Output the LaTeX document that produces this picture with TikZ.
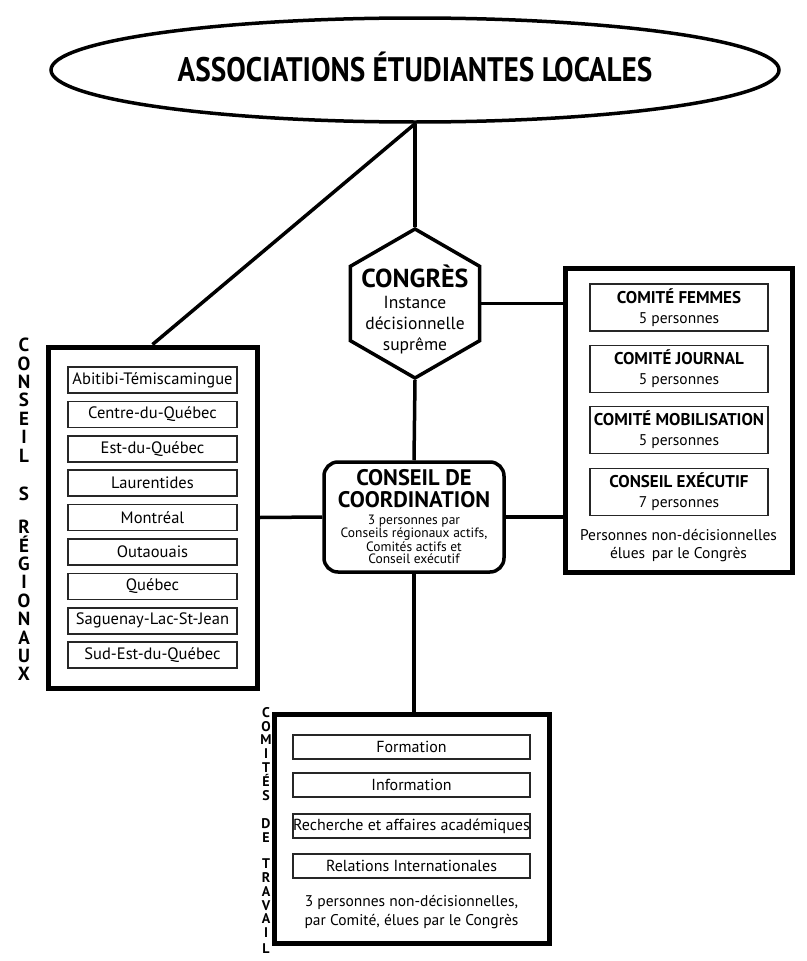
\documentclass[tikz,border=0pt]{standalone}
\usepackage{fontspec}
\setmainfont{PT Sans}
\usetikzlibrary{shapes.geometric}
\newcommand\myttlfont{\fontsize{17}{20}\selectfont\bfseries}
\begin{document}
\begin{tikzpicture}[x=1pt,y=-1pt,
  conn/.style={line width=3.5pt},
  outer/.style={draw, line width=5pt, inner sep=0pt, fill=white},
  inbox/.style={draw=black!85, line width=1.5pt, inner sep=0pt, fill=white, align=center},
  regbox/.style={inbox, minimum width=169pt, minimum height=26pt, font=\fontsize{16.5}{17}\selectfont},
  natbox/.style={inbox, minimum width=178pt, minimum height=47pt, font=\fontsize{15.5}{20}\selectfont},
  trabox/.style={inbox, minimum width=237pt, minimum height=24pt, font=\fontsize{16}{17}\selectfont},
  vletl/.style={font=\fontsize{19}{19}\selectfont\bfseries, inner sep=0pt, text height=13.5pt, text depth=0pt},
  vletb/.style={font=\fontsize{14}{14}\selectfont\bfseries, inner sep=0pt, text height=10pt, text depth=0pt},
  cdc/.style={font=\fontsize{22.5}{22.5}\selectfont\bfseries, inner sep=0pt, text height=15.5pt, text depth=0pt},
  note/.style={align=center, inner sep=0pt}
]
\useasboundingbox (0,0) rectangle (806,961);
\fill[white] (0,0) rectangle (806,961);

% main shapes
\node[draw, ellipse, line width=3.5pt, minimum width=728pt, minimum height=104pt, inner sep=0pt] (ael) at (415,70) {};
\node (aeltxt) at (415,67) {\fontsize{34}{34}\selectfont\bfseries\scalebox{0.86}[1]{ASSOCIATIONS ÉTUDIANTES LOCALES}};

\node[draw, regular polygon, regular polygon sides=6, shape border rotate=30, minimum size=149pt, line width=3.5pt, inner sep=0pt, fill=white] (congres) at (415,303.5) {};

\node[draw, rounded corners=14pt, line width=3.5pt, minimum width=180pt, minimum height=110pt, inner sep=0pt, fill=white] (conseil) at (414,517) {};

\node[outer, minimum width=209pt, minimum height=341pt] (lbox) at (152.5,517.5) {};
\node[outer, minimum width=227pt, minimum height=304pt] (rbox) at (678.5,420) {};
\node[outer, minimum width=275pt, minimum height=229pt] (bbox) at (411.5,828.5) {};

% connectors
\draw[conn] (ael.south) -- (congres.north);
\draw[conn] (ael.south) -- (lbox.north);
\draw[conn] (congres.south) -- (conseil.north);
\draw[conn] (congres.east) -- (rbox.west |- congres.east);
\draw[conn] (lbox.east) -- (conseil.west);
\draw[conn] (conseil.east) -- (rbox.west |- conseil.east);
\draw[conn] (conseil.south) -- (conseil.south |- bbox.north);

% texts in congres
\node[note, font=\fontsize{26}{26}\selectfont\bfseries] (congrestitle) at (415,276) {CONGRÈS};
\node[note, font=\fontsize{17.5}{21}\selectfont] (congressub) at (415,325) {Instance\\décisionnelle\\suprême};

% texts in conseil
\node[cdc] (conseiltitle1) at (414,478) {CONSEIL DE};
\node[cdc] (conseiltitle2) at (414,500) {COORDINATION};
\node[note, font=\fontsize{13.5}{11.8}\selectfont] (conseilsub) at (414,539) {3 personnes par\\Conseils régionaux actifs,\\Comités actifs et\\Conseil exécutif};

% regional councils
\foreach \t [count=\i from 0] in {Abitibi-Témiscamingue,Centre-du-Québec,Est-du-Québec,Laurentides,Montréal,Outaouais,Québec,Saguenay-Lac-St-Jean,Sud-Est-du-Québec}
  \node[regbox] (reg\i) at (152.5,{380+34.4*\i}) {\t};

% national committees
\node[natbox] (femmes) at (679,307.5) {{\myttlfont COMITÉ FEMMES}\\5 personnes};
\node[natbox] (journal) at (679,369) {{\myttlfont COMITÉ JOURNAL}\\5 personnes};
\node[natbox] (mobil) at (679,430) {{\myttlfont COMITÉ MOBILISATION}\\5 personnes};
\node[natbox] (exec) at (679,492) {{\myttlfont CONSEIL EXÉCUTIF}\\7 personnes};
\node[note, font=\fontsize{15.5}{18}\selectfont] (rnote) at (678.5,546) {Personnes non-décisionnelles\\élues\, par le Congrès};

% work committees
\node[trabox] (formation) at (411.5,747) {Formation};
\node[trabox] (information) at (411.5,785) {Information};
\node[trabox] (recherche) at (411.5,826) {Recherche et affaires académiques};
\node[trabox] (relations) at (411.5,866) {Relations Internationales};
\node[note, font=\fontsize{15.5}{19}\selectfont] (bnote) at (411.5,912.5) {3 personnes non-décisionnelles,\\par Comité, élues par le Congrès};

% vertical labels
\foreach \l/\y [count=\i] in {C/345,O/363.4,N/381.8,S/400.2,E/418.6,I/437,L/455.4,S/494,R/527,É/545.4,G/563.8,I/582.2,O/600.6,N/619,A/637.4,U/655.8,X/674.2}
  \node[vletl] (lv\i) at (24,\y) {\l};
\foreach \l/\y [count=\i] in {C/712,O/726,M/739.5,I/753,T/767,É/781,S/795,D/823,E/837,T/863,R/877,A/891,V/905,A/918,I/932,L/948}
  \node[vletb] (bv\i) at (266,\y) {\l};
\end{tikzpicture}
\end{document}
